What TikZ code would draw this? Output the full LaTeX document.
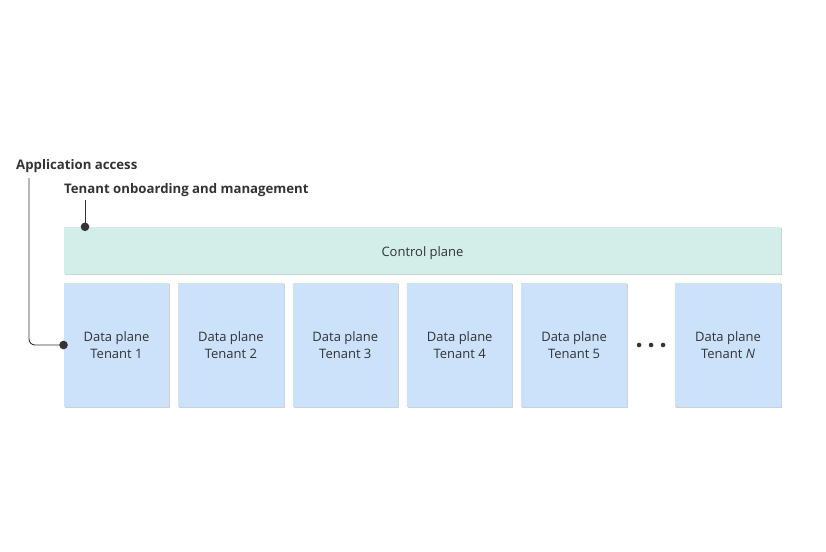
\documentclass[tikz,border=0pt]{standalone}
\usepackage{fontspec}
\setmainfont{Open Sans}
\usepackage{tikz}
\usetikzlibrary{positioning, shadows, calc}

\definecolor{ctrlgreen}{HTML}{D3EDE8}
\definecolor{datablue}{HTML}{CCE1FA}
\definecolor{inkgray}{HTML}{333333}

\begin{document}
\begin{tikzpicture}
	[x=1pt, y=-1pt, node distance = 8.5pt, text=inkgray,
	 font=\fontsize{13}{17}\selectfont,
	 boxshadow/.style={drop shadow={shadow xshift=1pt, shadow yshift=-1.2pt, fill=black!18, opacity=1}},
	 plane/.style={fill=ctrlgreen, minimum width=717pt, minimum height=47pt, inner sep=0pt, boxshadow},
	 tenant/.style={fill=datablue, minimum width=105.5pt, minimum height=124pt, inner sep=0pt, align=center, boxshadow},
	 caption/.style={anchor=west, inner sep=0pt, font=\fontsize{13.2}{16}\selectfont\bfseries},
	 conn/.style={draw=inkgray, line width=0.9pt, rounded corners=6pt}]
   \useasboundingbox (0,0) rectangle (826,551);
   \node[plane] (ctrl) at (422.5,250.5) {\raisebox{-3pt}[\height][\depth]{Control plane}};
   \node[tenant] (t1) at (116.5,345) {Data plane\\Tenant 1};
   \node[tenant, right=of t1] (t2) {Data plane\\Tenant 2};
   \node[tenant, right=of t2] (t3) {Data plane\\Tenant 3};
   \node[tenant, right=of t3] (t4) {Data plane\\Tenant 4};
   \node[tenant, right=of t4] (t5) {Data plane\\Tenant 5};
   \node[tenant] (tN) at (728,345) {Data plane\\Tenant \textit{N}};
   \node[inner sep=0pt] (dots) at ($(t5.east)!0.5!(tN.west)$) {\tikz[baseline]{\foreach \d in {0,12,24} \fill[inkgray] (\d pt,0) circle (2.3pt);}};
   % callouts
   \node[caption] (appaccess) at (16,166) {Application access};
   \node[caption] (onboard) at (64,190) {Tenant onboarding and management};
   \coordinate (a1) at (29,178);
   \coordinate (o1) at (85,200);
   \draw[conn] (a1) |- (t1.west);
   \fill[inkgray] (t1.west) circle (4.3pt);
   \draw[conn] (o1) -- (o1 |- ctrl.north);
   \fill[inkgray] (o1 |- ctrl.north) circle (4.3pt);
\end{tikzpicture}
\end{document}
